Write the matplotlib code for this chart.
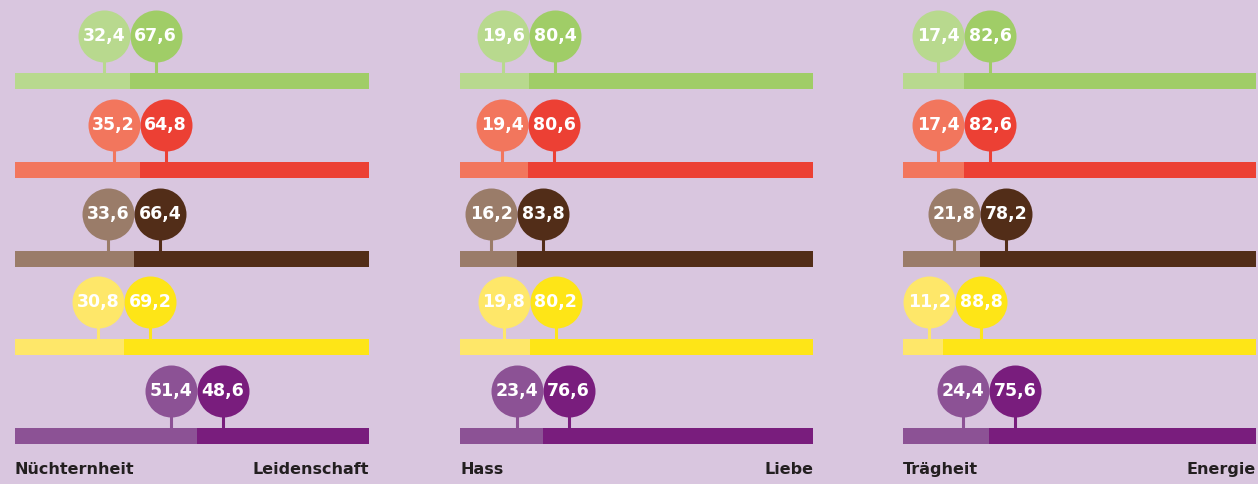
import matplotlib
matplotlib.use("Agg")
import matplotlib.pyplot as plt

# data: share of the left pole per row, right pole per row
left_labels = ["Nüchternheit", "Hass", "Trägheit"]
right_labels = ["Leidenschaft", "Liebe", "Energie"]
left_vals = [
    [32.4, 35.2, 33.6, 30.8, 51.4],
    [19.6, 19.4, 16.2, 19.8, 23.4],
    [17.4, 17.4, 21.8, 11.2, 24.4],
]
right_vals = [
    [67.6, 64.8, 66.4, 69.2, 48.6],
    [80.4, 80.6, 83.8, 80.2, 76.6],
    [82.6, 82.6, 78.2, 88.8, 75.6],
]
light_colors = ["#B8D98E", "#F2765D", "#9A7C69", "#FEE769", "#8C5295"]
dark_colors = ["#A0CD67", "#EC4034", "#522D18", "#FEE517", "#791D7D"]

BG = "#D9C6DF"
W, H = 1258, 484
DPI = 100
panel_x = [(15, 354), (460, 353), (903, 353)]  # left px, width px
row_px = 88.75
first_bar_px = 81
radius_px = 26
bar_h_px = 16
circle_dy_px = 45


def fmt(v):
    return f"{v:.1f}".replace(".", ",")


fig = plt.figure(figsize=(W / DPI, H / DPI), dpi=DPI)
fig.patch.set_facecolor(BG)

y_top = -first_bar_px / row_px
y_bot = (H - first_bar_px) / row_px
bar_h = bar_h_px / row_px
circ_dy = circle_dy_px / row_px
r_y = radius_px / row_px
marker_s = (2 * radius_px * 72 / DPI) ** 2

for p in range(3):
    x0, wpx = panel_x[p]
    ax = fig.add_axes([x0 / W, 0, wpx / W, 1])
    ax.set_xlim(0, 100)
    ax.set_ylim(y_bot, y_top)
    ax.axis("off")
    r_x = radius_px / wpx * 100

    for i in range(5):
        lv = left_vals[p][i]
        rv = right_vals[p][i]
        ax.barh(i, lv, left=0, height=bar_h, color=light_colors[i], linewidth=0)
        ax.barh(i, rv, left=lv, height=bar_h, color=dark_colors[i], linewidth=0)

        cx_l = max(lv - r_x, r_x)
        cx_r = cx_l + 2 * r_x
        cy = i - circ_dy
        for cx, col, v in [(cx_l, light_colors[i], lv), (cx_r, dark_colors[i], rv)]:
            ax.vlines(cx, cy + r_y * 0.9, i - bar_h / 2, color=col, linewidth=2.2)
            ax.scatter([cx], [cy], s=marker_s, color=col, linewidths=0, zorder=3)
            ax.text(cx, cy, fmt(v), color="white", fontsize=12.5, fontweight="bold",
                    ha="center", va="center", zorder=4)

    ax.text(0, 4.38, left_labels[p], ha="left", va="center", fontsize=11.5,
            fontweight="bold", color="#231F20")
    ax.text(100, 4.38, right_labels[p], ha="right", va="center", fontsize=11.5,
            fontweight="bold", color="#231F20")

fig.savefig("out.png", dpi=DPI, facecolor=BG)
